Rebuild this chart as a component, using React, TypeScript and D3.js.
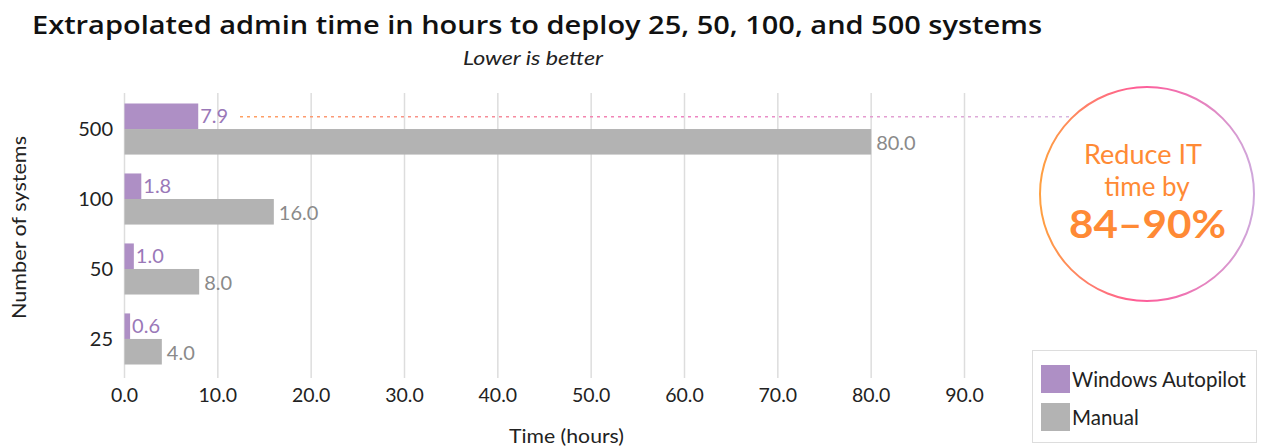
import React from "react";
import * as d3 from "d3";

const categories = ["500", "100", "50", "25"];
const autopilot = [7.9, 1.8, 1.0, 0.6];
const manual = [80.0, 16.0, 8.0, 4.0];
const xTicks = [0, 10, 20, 30, 40, 50, 60, 70, 80, 90];
const seriesNames = ["Windows Autopilot", "Manual"];

const W = 1261, H = 448;
const FONT = "Lato, 'Noto Sans', sans-serif";
const WIDE = "'Open Sans', Lato, sans-serif";
const PURPLE = "#AE8FC5";
const GRAY = "#B3B3B3";

export default function App() {
  const x = d3.scaleLinear().domain([0, 90]).range([124.5, 964.5]);
  const y = d3.scaleBand().domain(categories).range([93, 375]).paddingInner(0.27).paddingOuter(0.15);
  const sub = d3.scaleBand().domain(seriesNames).range([0, y.bandwidth()]);
  const bw = sub.bandwidth();
  const cx = 1147, cy = 194, r = 107;
  const dotY = (y("500") as number) + bw / 2 + 0.5;
  return (
    <svg width={W} height={H} style={{ position: "absolute", left: 0, top: 0, fontFamily: FONT }}>
      <defs>
        <linearGradient id="ring" x1="0" y1="0" x2="1" y2="0">
          <stop offset="0" stopColor="#FFA040" />
          <stop offset="0.45" stopColor="#FF5C96" />
          <stop offset="0.65" stopColor="#F070B0" />
          <stop offset="1" stopColor="#CFA8DC" />
        </linearGradient>
        <linearGradient id="dots" gradientUnits="userSpaceOnUse" x1="240" y1="0" x2="1080" y2="0">
          <stop offset="0" stopColor="#FFA060" />
          <stop offset="0.5" stopColor="#F080C0" />
          <stop offset="1" stopColor="#D8B8E0" />
        </linearGradient>
      </defs>
      <rect width={W} height={H} fill="#fff" />
      <text x={32} y={34} fontSize={25} fontWeight={600} fill="#111" fontFamily={WIDE}
        textLength={1010} lengthAdjust="spacingAndGlyphs">
        Extrapolated admin time in hours to deploy 25, 50, 100, and 500 systems
      </text>
      <text x={463} y={65} fontSize={20} fontStyle="italic" fill="#222"
        textLength={140} lengthAdjust="spacingAndGlyphs">
        Lower is better
      </text>
      {xTicks.map((t) => (
        <g key={t}>
          <line x1={x(t)} x2={x(t)} y1={93} y2={378} stroke="#DDDDDD" strokeWidth={1.5} />
          <text x={x(t)} y={402} fontSize={19.5} textAnchor="middle" fill="#222">
            {t.toFixed(1)}
          </text>
        </g>
      ))}
      <line x1={240} x2={1075} y1={dotY} y2={dotY} stroke="url(#dots)" strokeWidth={1.5} strokeDasharray="3 4" />
      {categories.map((c, i) => {
        const y0 = y(c) as number;
        return (
          <g key={c}>
            <text x={113} y={y0 + y.bandwidth() / 2 + 7} fontSize={20} textAnchor="end" fill="#222">
              {c}
            </text>
            <rect x={x(0)} y={y0} width={x(autopilot[i]) - x(0)} height={bw} fill={PURPLE} />
            <rect x={x(0)} y={y0 + bw} width={x(manual[i]) - x(0)} height={bw} fill={GRAY} />
            <text x={x(autopilot[i]) + 2} y={y0 + bw / 2 + 7} fontSize={20} fill="#9A78B8">
              {autopilot[i].toFixed(1)}
            </text>
            <text x={x(manual[i]) + 5} y={y0 + bw + bw / 2 + 8} fontSize={20} fill="#8A8A8A">
              {manual[i].toFixed(1)}
            </text>
          </g>
        );
      })}
      <text transform="translate(26,319) rotate(-90)" fontSize={20} fill="#222"
        textLength={183} lengthAdjust="spacingAndGlyphs">
        Number of systems
      </text>
      <text x={509} y={443} fontSize={19} fill="#222" textLength={115} lengthAdjust="spacingAndGlyphs">
        Time (hours)
      </text>
      <circle cx={cx} cy={cy} r={r} fill="#fff" stroke="url(#ring)" strokeWidth={2} />
      <text x={1084} y={164} fontSize={26} fill="#FF8A35" textLength={118} lengthAdjust="spacingAndGlyphs">Reduce IT</text>
      <text x={cx} y={196} fontSize={26} textAnchor="middle" fill="#FF8A35">time by</text>
      <text x={1069} y={238} fontSize={39} fontWeight={700} fill="#FF8A35" textLength={157} lengthAdjust="spacingAndGlyphs">84–90%</text>
      <rect x={1032.5} y={350.5} width={224} height={92} fill="#fff" stroke="#DDDDDD" />
      {seriesNames.map((s, i) => (
        <g key={s}>
          <rect x={1041} y={365 + i * 38} width={29} height={28} fill={i === 0 ? PURPLE : GRAY} />
          <text x={1072} y={387 + i * 38} fontSize={20.5} fill="#222">{s}</text>
        </g>
      ))}
    </svg>
  );
}
